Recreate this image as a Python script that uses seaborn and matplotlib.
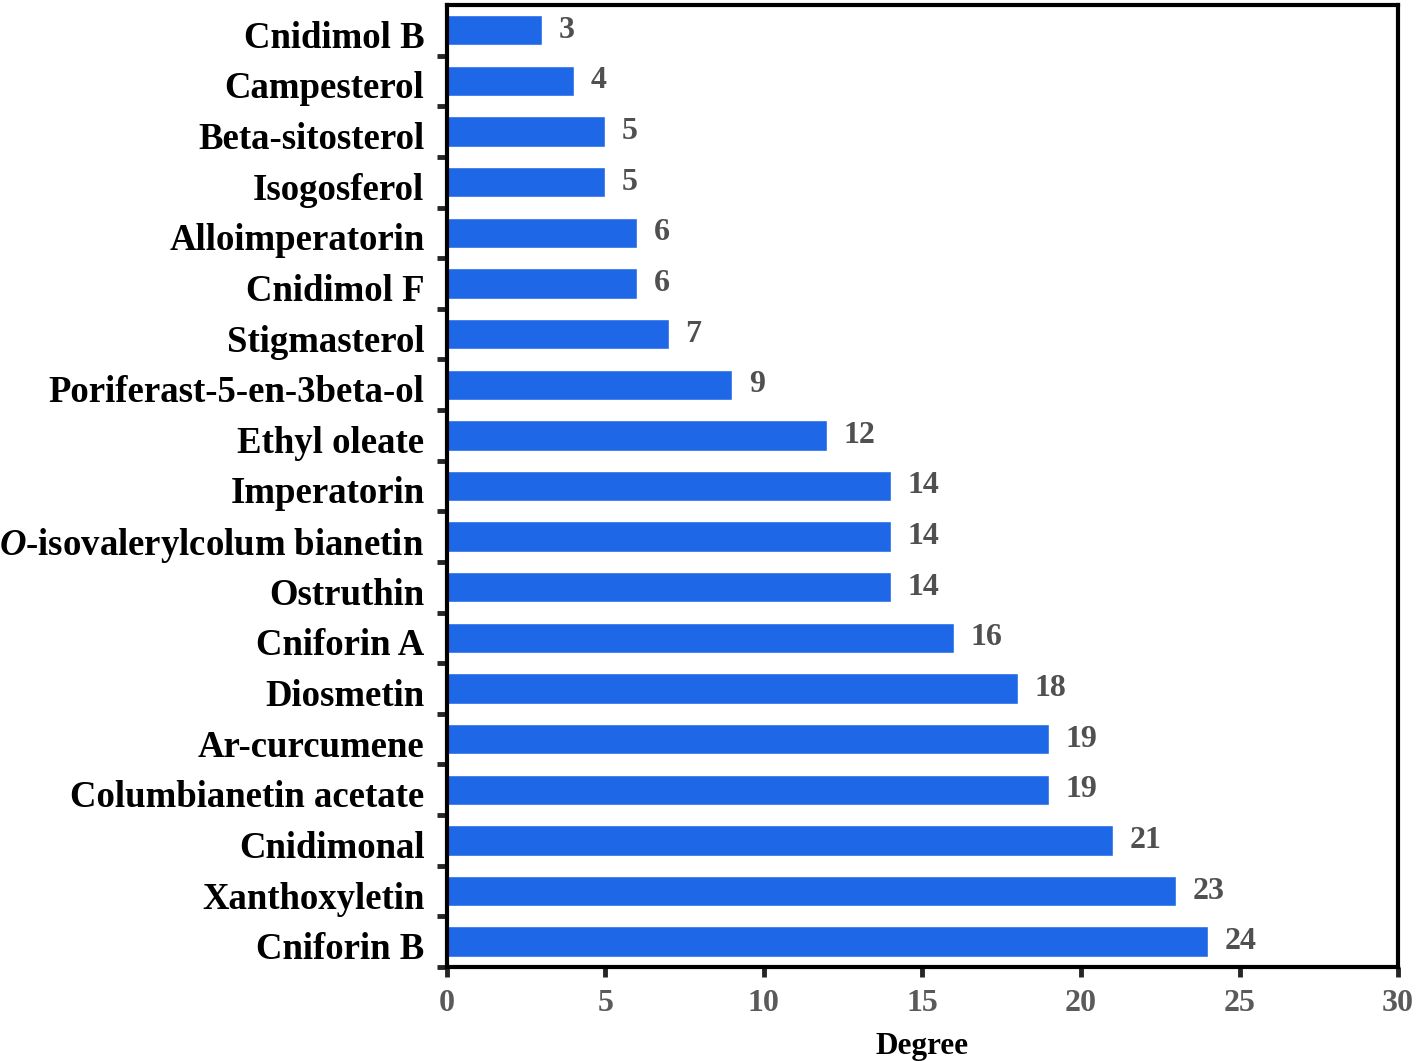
import matplotlib
matplotlib.use("Agg")
import matplotlib.pyplot as plt
import matplotlib.transforms as mtransforms
import seaborn as sns
import pandas as pd
import numpy as np

# compounds, top to bottom
compounds = ["Cnidimol B", "Campesterol", "Beta-sitosterol", "Isogosferol",
             "Alloimperatorin", "Cnidimol F", "Stigmasterol",
             "Poriferast-5-en-3beta-ol", "Ethyl oleate", "Imperatorin",
             r"$\mathbfit{O}$-isovalerylcolum bianetin", "Ostruthin", "Cniforin A",
             "Diosmetin", "Ar-curcumene", "Columbianetin acetate", "Cnidimonal",
             "Xanthoxyletin", "Cniforin B"]
degree = [3, 4, 5, 5, 6, 6, 7, 9, 12, 14, 14, 14, 16, 18, 19, 19, 21, 23, 24]
x_ticks = [0, 5, 10, 15, 20, 25, 30]

df = pd.DataFrame({"Compound": compounds, "Degree": degree})

sns.set_style("white")
plt.rcParams['font.family'] = ['Liberation Serif', 'DejaVu Serif']
plt.rcParams['mathtext.fontset'] = 'custom'
plt.rcParams['mathtext.bfit'] = 'Liberation Serif:italic:bold'
plt.rcParams['mathtext.rm'] = 'Liberation Serif:bold'

fig = plt.figure(figsize=(14.18, 10.61), dpi=100)
ax = fig.add_axes([0.315, 0.0886, 0.671, 0.9067])

sns.barplot(data=df, x="Degree", y="Compound", orient="h", color="#1e68e8",
            saturation=1, width=0.6, ax=ax)

ax.bar_label(ax.containers[0], labels=[str(v) for v in degree], padding=12,
             fontsize=23, fontweight="bold", color="#505050")

ax.set_xlim(0, 30)
ax.set_ylim(len(compounds) - 0.5, -0.5)
ax.set_xticks(x_ticks)
ax.set_xticklabels([str(t) for t in x_ticks], fontsize=23, fontweight="bold", color="#5a5a5a")
ax.tick_params(axis="x", direction="out", length=7, width=3.5, pad=9, bottom=True)

# y labels, ticks sit between the bars
ax.set_yticks(range(len(compounds)))
ax.set_yticklabels(compounds, fontsize=26.5, fontweight="bold", color="black")
ax.tick_params(axis="y", which="major", length=0, pad=16)
ax.set_yticks(np.arange(0.5, len(compounds), 1), minor=True)
ax.tick_params(axis="y", which="minor", direction="out", length=7, width=3.5, left=True)

# labels sit a little low in the original
shift = mtransforms.ScaledTranslation(0, -4 / 100, fig.dpi_scale_trans)
for lab in ax.get_yticklabels():
    lab.set_transform(lab.get_transform() + shift)

ax.set_ylabel("")
ax.set_xlabel("Degree", fontsize=22.5, fontweight="bold", color="black", labelpad=10)

for s in ax.spines.values():
    s.set_linewidth(3)
    s.set_color("black")

fig.savefig("out.png", dpi=100)
